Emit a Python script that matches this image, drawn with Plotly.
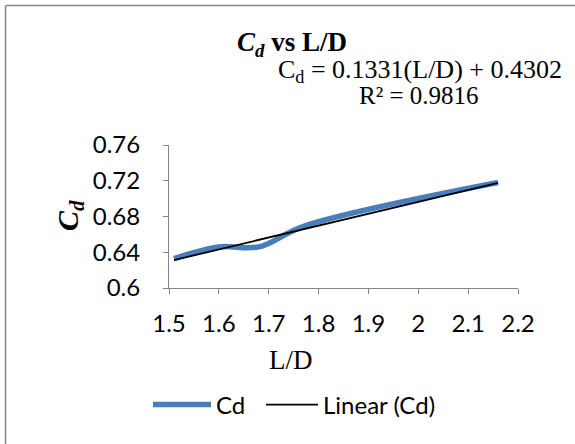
import plotly.graph_objects as go

# ---- data ----
ld = [1.51, 1.60, 1.68, 1.77, 2.16]
cd = [0.633, 0.646, 0.646, 0.669, 0.718]
slope = 0.1331
intercept = 0.4302
r2 = 0.9816
x_ticks = [1.5, 1.6, 1.7, 1.8, 1.9, 2.0, 2.1, 2.2]
x_ticktext = ["1.5", "1.6", "1.7", "1.8", "1.9", "2", "2.1", "2.2"]
y_ticks = [0.6, 0.64, 0.68, 0.72, 0.76]
y_ticktext = ["0.6", "0.64", "0.68", "0.72", "0.76"]

W, H = 575, 444
L, R, T, B = 169, 57, 145, 156
pw, ph = W - L - R, H - T - B


def px(x):
    return (x - L) / pw


def py(y):
    return (H - B - y) / ph


trend_x = [min(ld), max(ld)]
trend_y = [slope * v + intercept for v in trend_x]

AX = "#868686"
fig = go.Figure()
fig.add_trace(go.Scatter(x=ld, y=cd, mode="lines", name="Cd", legend="legend",
                         line=dict(color="#4A7EBB", width=5.5, shape="spline")))
fig.add_trace(go.Scatter(x=trend_x, y=trend_y, mode="lines", name="Linear (Cd)",
                         legend="legend2",
                         line=dict(color="black", width=1.8)))

leg_font = dict(family="Lato", size=24, color="black")
fig.update_layout(
    width=W, height=H,
    margin=dict(l=L, r=R, t=T, b=B),
    paper_bgcolor="white", plot_bgcolor="white",
    font=dict(family="Lato", size=24, color="black"),
    showlegend=True,
    legend=dict(orientation="h", x=px(148), y=py(405), xanchor="left", yanchor="middle",
                font=leg_font, itemwidth=58, bgcolor="rgba(0,0,0,0)"),
    legend2=dict(orientation="h", x=px(261), y=py(405), xanchor="left", yanchor="middle",
                 font=leg_font, itemwidth=52, bgcolor="rgba(0,0,0,0)"),
    xaxis=dict(range=[1.5, 2.2], tickvals=x_ticks, ticktext=x_ticktext,
               showline=True, linecolor=AX, linewidth=1, ticks="outside",
               ticklen=5, tickcolor=AX, showgrid=False, zeroline=False,
               ticklabelstandoff=9, tickfont=dict(family="Lato", size=24)),
    yaxis=dict(range=[0.6, 0.76], tickvals=y_ticks, ticktext=y_ticktext,
               showline=True, linecolor=AX, linewidth=1, ticks="outside",
               ticklen=5, tickcolor=AX, showgrid=False, zeroline=False,
               ticklabelstandoff=18, tickfont=dict(family="Lato", size=24)),
)

serif = "Liberation Serif"
fig.add_annotation(xref="paper", yref="paper", x=px(292), y=py(44),
                   text="<b><i>C<sub>d</sub></i> vs L/D</b>", showarrow=False,
                   font=dict(family=serif, size=27), xanchor="center", yanchor="middle")
fig.add_annotation(xref="paper", yref="paper", x=px(420), y=py(71),
                   text=f"C<sub>d</sub> = {slope}(L/D) + {intercept}",
                   showarrow=False, font=dict(family=serif, size=26),
                   xanchor="center", yanchor="middle")
fig.add_annotation(xref="paper", yref="paper", x=px(419), y=py(95),
                   text=f"R² = {r2}",
                   showarrow=False, font=dict(family=serif, size=25),
                   xanchor="center", yanchor="middle")
fig.add_annotation(xref="paper", yref="paper", x=px(70), y=py(216),
                   text="<b><i>C<sub>d</sub></i></b>", showarrow=False, textangle=-90,
                   font=dict(family=serif, size=30), xanchor="center", yanchor="middle")
fig.add_annotation(xref="paper", yref="paper", x=px(291), y=py(360),
                   text="L/D", showarrow=False,
                   font=dict(family=serif, size=27), xanchor="center", yanchor="middle")

# chart border (left and top edges visible)
fig.add_shape(type="line", xref="paper", yref="paper", x0=px(5.5), x1=px(5.5),
              y0=py(5.5), y1=py(470), line=dict(color=AX, width=1.5))
fig.add_shape(type="line", xref="paper", yref="paper", x0=px(5.5), x1=px(600),
              y0=py(5.5), y1=py(5.5), line=dict(color=AX, width=1.5))

fig.write_html("out.html", config={"displayModeBar": False},
               post_script="document.body.style.margin='0';")
